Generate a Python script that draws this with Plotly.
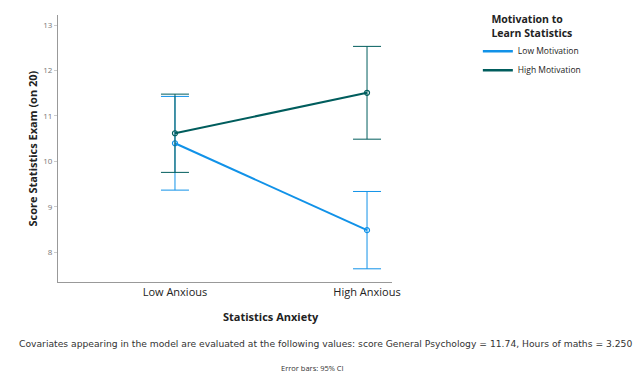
import plotly.graph_objects as go

# Estimated marginal means of the exam score with 95% CI half-widths
anxiety_levels = ["Low Anxious", "High Anxious"]
low_motivation_mean = [10.40, 8.49]
low_motivation_ci = [1.03, 0.85]
high_motivation_mean = [10.62, 11.51]
high_motivation_ci = [0.86, 1.02]
y_ticks = [8, 9, 10, 11, 12, 13]

series = [
    ("Low Motivation", low_motivation_mean, low_motivation_ci, "#1192e8"),
    ("High Motivation", high_motivation_mean, high_motivation_ci, "#005d5d"),
]

FONT = "Open Sans, DejaVu Sans, sans-serif"
NOTE_FONT = "DejaVu Sans, sans-serif"
xpos = list(range(len(anxiety_levels)))

fig = go.Figure()
for name, mean, ci, color in series:
    fig.add_trace(go.Scatter(
        x=xpos, y=mean, mode="lines+markers", name=name, showlegend=False,
        line=dict(color=color, width=2),
        marker=dict(symbol="circle-open", size=5, color=color, line=dict(width=1.2)),
        error_y=dict(type="data", array=ci, visible=True, color=color,
                     thickness=1, width=14),
    ))
# legend entries drawn as plain line swatches
for name, mean, ci, color in series:
    fig.add_trace(go.Scatter(
        x=[None], y=[None], mode="lines", name=name,
        line=dict(color=color, width=2.5),
    ))

fig.update_layout(
    width=644, height=374,
    margin=dict(l=58, r=252, t=15, b=92),
    paper_bgcolor="white", plot_bgcolor="white",
    font=dict(family=FONT, color="#222"),
    xaxis=dict(
        range=[-0.609, 1.13], tickvals=xpos, ticktext=anxiety_levels,
        showgrid=False, zeroline=False, showline=True, linecolor="#999",
        linewidth=1, ticks="", tickfont=dict(size=11, color="#222"),
        automargin=False,
    ),
    yaxis=dict(
        range=[7.35, 13.22], tickvals=y_ticks, showgrid=False, zeroline=False,
        showline=True, linecolor="#999", linewidth=1,
        ticks="outside", ticklen=3, tickcolor="#ccc",
        tickfont=dict(size=8, color="#777"), automargin=False,
    ),
    legend=dict(
        xref="container", yref="container",
        x=0.742, y=0.975, xanchor="left", yanchor="top",
        title=dict(text="<b>Motivation to<br>Learn Statistics</b>", side="top center",
                   font=dict(size=10.5, color="#222")),
        font=dict(size=8.5, color="#222"), itemwidth=30,
        tracegroupgap=0, bgcolor="rgba(0,0,0,0)",
    ),
    annotations=[
        dict(text="<b>Score Statistics Exam (on 20)</b>", xref="paper", yref="paper",
             x=0, y=0.5, xshift=-26, textangle=-90, showarrow=False,
             font=dict(size=11, color="#222"), xanchor="center", yanchor="middle"),
        dict(text="<b>Statistics Anxiety</b>", xref="x", yref="paper",
             x=0.5, y=0, yshift=-34, showarrow=False,
             font=dict(size=11, color="#222"), xanchor="center", yanchor="middle"),
        dict(text="Covariates appearing in the model are evaluated at the following values: "
                  "score General Psychology = 11.74, Hours of maths = 3.250",
             xref="paper", yref="paper", x=(325 - 58) / 334, y=0, yshift=-61,
             showarrow=False, font=dict(family=NOTE_FONT, size=9.2, color="#333"),
             xanchor="center", yanchor="middle"),
        dict(text="Error bars: 95% CI", xref="paper", yref="paper",
             x=(312 - 58) / 334, y=0, yshift=-86, showarrow=False,
             font=dict(size=7.5, color="#333"), xanchor="center", yanchor="middle"),
    ],
)

fig.write_html("out.html")
